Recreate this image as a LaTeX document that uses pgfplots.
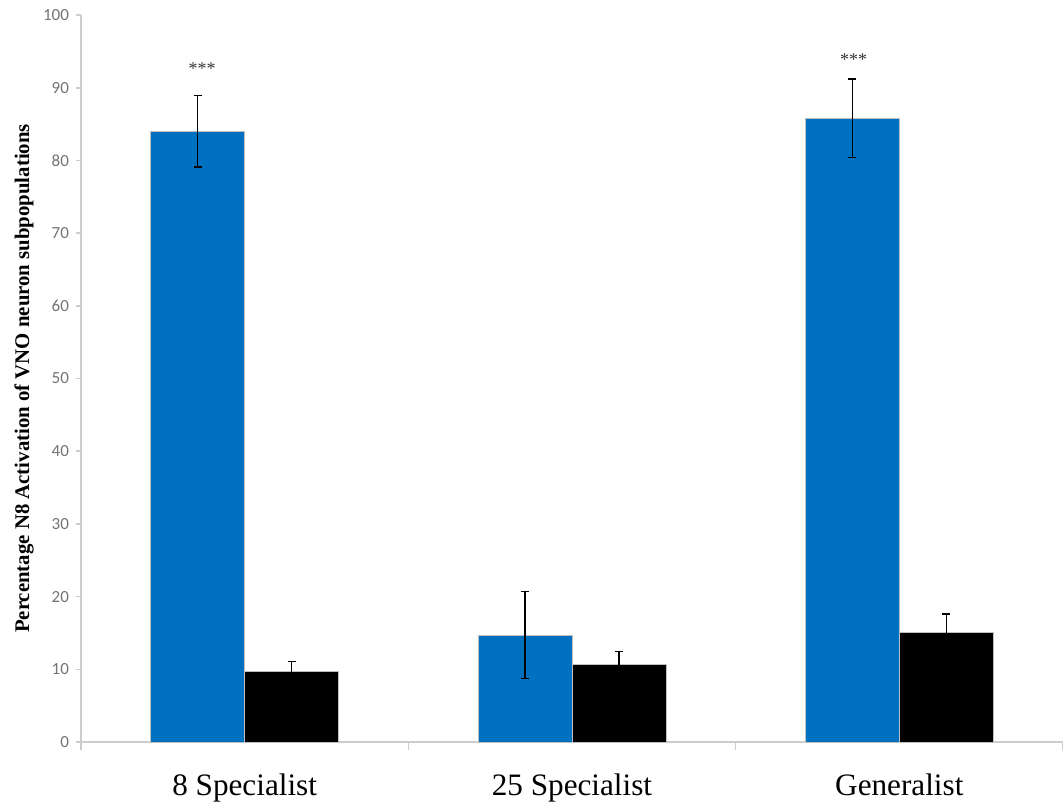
\documentclass[border=0pt]{standalone}
\usepackage{pgfplots}
\pgfplotsset{compat=1.18}
\usepackage{fontspec}
\setmainfont{Liberation Serif}
\newfontfamily\tickfont{Carlito}
\definecolor{barblue}{RGB}{0,112,192}
\definecolor{axgray}{RGB}{205,205,205}
\definecolor{tickgray}{RGB}{115,115,115}
\begin{document}
\begin{tikzpicture}
\begin{axis}[name=ax, width=491pt, height=363.5pt, scale only axis,
 xmin=-0.5, xmax=2.5, ymin=0, ymax=100,
 ybar=0pt, bar width=0.287,
 axis x line=bottom, axis y line=left,
 axis line style={axgray, line width=0.8pt, -},
 xtick={0,1,2}, xticklabels={8 Specialist, 25 Specialist, Generalist},
 major x tick style={draw=none},
 minor xtick={-0.5,0.5,1.5,2.5},
 tick align=outside, minor tick length=4pt, major tick length=2.5pt,
 ytick={0,10,...,100},
 y tick style={axgray, line width=0.8pt},
 minor x tick style={axgray, line width=0.8pt},
 yticklabel style={font=\tickfont\fontsize{8.5}{10}\selectfont, text=tickgray},
 /pgf/number format/assume math mode=true,
 xticklabel style={font=\fontsize{15.6}{17}\selectfont, yshift=-10pt},
 ylabel={\textbf{Percentage N8 Activation of VNO neuron subpopulations}},
 ylabel style={font=\fontsize{10.4}{12}\selectfont, at={(axis description cs:0,0.5)}, anchor=center, yshift=28.5pt},
 clip=false,
]
\addplot[fill=barblue, draw=gray!50, line width=0.4pt,
 error bars/.cd, y dir=both, y explicit,
 error bar style={black, line width=0.6pt},
 error mark options={black, line width=0.6pt, mark size=2pt, rotate=90}]
 coordinates {(0,84) +- (0,4.9) (1,14.7) +- (0,6.0) (2,85.8) +- (0,5.4)};
\addplot[fill=black, draw=gray!50, line width=0.4pt,
 error bars/.cd, y dir=both, y explicit,
 error bar style={black, line width=0.6pt},
 error mark options={black, line width=0.6pt, mark size=2pt, rotate=90}]
 coordinates {(0,9.7) +- (0,1.4) (1,10.7) +- (0,1.7) (2,15.1) +- (0,2.5)};
\node[font=\fontsize{9}{10}\selectfont, text=black!80] at (axis cs:-0.13,92.6) {***};
\node[font=\fontsize{9}{10}\selectfont, text=black!80] at (axis cs:1.86,93.8) {***};
\end{axis}
\pgfresetboundingbox
\path ([shift={(-40.5pt,-31.5pt)}]ax.south west) rectangle ([shift={(0pt,7.5pt)}]ax.north east);
\end{tikzpicture}
\end{document}
